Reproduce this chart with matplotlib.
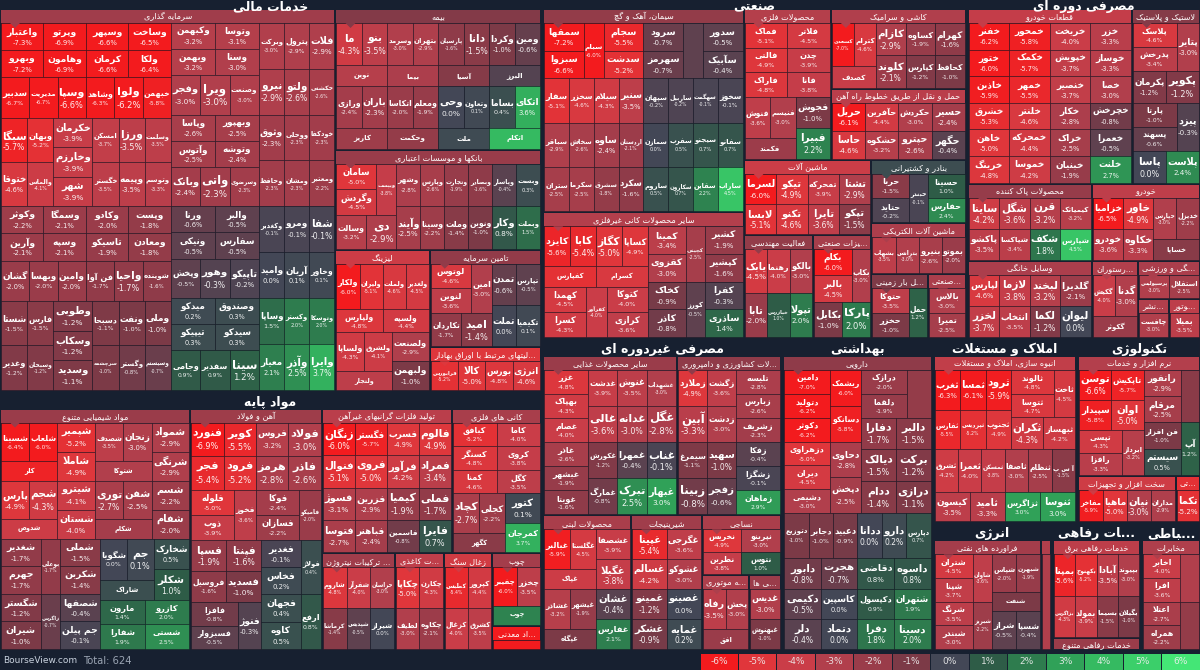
import matplotlib
matplotlib.use("Agg")
import matplotlib.pyplot as plt
from matplotlib.patches import Rectangle, Polygon
from matplotlib.colors import LinearSegmentedColormap
from matplotlib.font_manager import FontProperties
from matplotlib.textpath import TextPath
import numpy as np

# ------------------------------------------------------------------ data
SECTOR_NAMES = ["خدمات مالی", "مواد پایه", "صنعتی", "مصرفی دوره ای", "مصرفی غیردوره ای",
                "بهداشتی", "املاک و مستغلات", "تکنولوژی", "انرژی", "خدمات رفاهی", "خدمات ارتباطی"]

FIN = [
    ("سرمایه گذاری", [
        ("وبهرو", -7.2), ("واعتبار", -7.3), ("وپرتو", -6.9), ("وهامون", -6.9), ("سدبیر", -6.7),
        ("مدیریت", -6.7), ("وسپا", -6.6), ("وسپهر", -6.6), ("کرمان", -6.6), ("وساخت", -6.5),
        ("ولکا", -6.4), ("وشاهد", -6.3), ("ولوا", -6.2), ("خبهمن", -5.8), ("سبگا", -5.7),
        ("وبهان", -5.2), ("ختوقا", -4.6), ("والماس", -4.1), ("خکرمان", -3.9), ("وخارزم", -3.9),
        ("شهر", -3.9), ("امسکن", -3.7), ("ورزا", -3.5), ("وسلمت", -3.5), ("خگستر", -3.5),
        ("وپیمه", -3.5),
        ("وتوسم", -3.3), ("وکبهمن", -3.2), ("وبهمن", -3.2), ("وتوسا", -3.1), ("وسنا", -3.0),
        ("وفجر", -3.0), ("ویرا", -3.0), ("وصنعت", -3.0), ("وبرکت", -3.0), ("پترول", -2.9),
        ("فلات", -2.9), ("نیرو", -2.9), ("ولتو", -2.6), ("حکشتی", -2.6), ("وپاسا", -2.6),
        ("وآتوس", -2.5), ("وبهپور", -2.5), ("وتوشه", -2.4), ("وبانک", -2.4), ("واتی", -2.3),
        ("وسرضوی", -2.3), ("وثوق", -2.3), ("ووحلی", -2.3), ("خودکفا", -2.3), ("وحافظ", -2.3),
        ("ومشان", -2.3),
        ("ومعتبر", -2.2), ("وکوثر", -2.2), ("وآرین", -2.1), ("وسمگا", -2.1), ("وسپه", -2.1),
        ("گشان", -2.0), ("وبهسا", -2.0), ("وامین", -2.0), ("وکادو", -2.0), ("تاسیکو", -1.9),
        ("وپست", -1.8), ("ومعادن", -1.8), ("فن آوا", -1.7), ("واحیا", -1.7), ("شوینده", -1.6),
        ("شستا", -1.5), ("فارس", -1.5), ("وغدیر", -1.2), ("وسبحان", -1.2), ("وطوبی", -1.2),
        ("وسکاب", -1.2), ("وسدید", -1.1), ("دسبحا", -1.1), ("ونفت", -1.0), ("وملی", -1.0),
        ("سرچشمه", -1.0),
        ("وگستر", -0.8), ("وسیستم", -0.7), ("ورنا", -0.6), ("ونیکی", -0.5), ("والبر", -0.5),
        ("سفارس", -0.5), ("وپخش", -0.5), ("وهور", -0.3), ("تاپیکو", -0.2), ("وکغدیر", -0.1),
        ("ومرو", -0.1), ("شفا", -0.1), ("وامید", 0.0), ("آریان", 0.1), ("وخاور", 0.1),
        ("میدکو", 0.2), ("تیپیکو", 0.3), ("وصندوق", 0.3), ("سیدکو", 0.3), ("وجامی", 0.9),
        ("سفدیر", 0.9), ("سینا", 1.2), ("وساپا", 1.5), ("وکستر", 2.0), ("وتوسکا", 2.0),
        ("معیار", 2.1), ("وآذر", 2.5), ("وایرا", 3.7)]),
    ("بیمه", [
        ("ما", -4.3), ("بنو", -3.5), ("نوین", -3.2), ("وسرمد", -3.0), ("بتهران", -2.9),
        ("بیما", -2.8), ("ورازی", -2.4), ("باران", -2.3), ("کاریز", -2.2), ("اتکاسا", -2.0),
        ("ومعلم", -1.9), ("وحکمت", -1.8), ("پارسیان", -1.6), ("دانا", -1.5), ("آسیا", -1.3),
        ("وکردا", -1.0), ("ومین", -0.6), ("البرز", -0.3), ("وحی", 0.0), ("وتعاون", 0.1),
        ("ملت", 0.2), ("بساما", 0.4), ("اتکای", 3.6), ("اتکام", 4.0)]),
    ("بانکها و موسسات اعتباری", [
        ("سامان", -5.0), ("وگردش", -4.5), ("ویپست", -3.8), ("وسالت", -3.2), ("دی", -2.9),
        ("وشهر", -2.8), ("وپارس", -2.6), ("وآیند", -2.5), ("وسینا", -2.2), ("وتجارت", -1.9),
        ("وبصادر", -1.6), ("وملت", -1.4), ("ونوین", -1.0), ("وپاسار", -0.4), ("وبست", 0.3),
        ("وکار", 0.8), ("وبملت", 1.5)]),
    ("لیزینگ", [
        ("ولکار", -6.0), ("ولیران", -5.1), ("ولپارس", -4.8), ("ولملت", -4.6), ("ولغدیر", -4.5),
        ("ولسپه", -4.4), ("ولساپا", -4.3), ("ولشرق", -4.1), ("ولتجار", -3.5), ("ولصنعت", -2.9),
        ("ولبهمن", -1.0)]),
    ("تامین سرمایه", [
        ("لوتوس", -4.6), ("لنوین", -3.6), ("امین", -3.0), ("تکاردان", -1.7), ("امید", -1.4),
        ("تمدن", -0.6), ("تپارس", -0.5), ("تملت", 0.0), ("تکیمیا", 0.1)]),
    ("فعالیتهای مرتبط با اوراق بهادار", [
        ("فرابورس", -5.2), ("کالا", -5.0), ("بورس", -4.8), ("انرژی", -4.6)]),
]

BASIC = [
    ("مواد شیمیایی متنوع", [
        ("شسینا", -6.4), ("شلعاب", -6.0), ("کلر", -5.7), ("شپمیر", -5.2), ("شاملا", -4.9),
        ("پارس", -4.9), ("شجم", -4.3), ("شدوص", -4.1), ("شیترو", -4.1), ("شستان", -4.0),
        ("شصدف", -3.5), ("زنجان", -3.0), ("شتوکا", -3.0), ("شمواد", -2.9), ("شرنگی", -2.9),
        ("توری", -2.7), ("شفن", -2.5), ("شکام", -2.4), ("شسم", -2.2), ("شفام", -2.0),
        ("شغدیر", -1.7), ("جهرم", -1.7), ("بوعلی", -1.7), ("شملی", -1.5), ("شکربن", -1.4),
        ("شگستر", -1.2), ("شیران", -1.0), ("زاگرس", -0.7), ("شصفها", -0.4), ("جم پیلن", -0.1),
        ("شگویا", 0.0), ("جم", 0.1), ("شاراک", 0.4), ("شخارک", 0.5), ("شکلر", 1.0),
        ("مارون", 1.4), ("شفارا", 1.9), ("کازرو", 2.0), ("شستی", 2.5)]),
    ("آهن و فولاد", [
        ("فنورد", -6.9), ("کویر", -5.5), ("فجر", -5.4), ("فرود", -5.2), ("فلوله", -5.0),
        ("ذوب", -3.9), ("فخوز", -3.6), ("فروس", -3.2), ("فولاد", -3.0), ("هرمز", -2.8),
        ("فاذر", -2.6), ("فوکا", -2.4), ("فسازان", -2.2), ("فامیکو", -2.0), ("فسپا", -1.9),
        ("فروسیل", -1.6), ("فپنتا", -1.6), ("فسدید", -1.0), ("فافزا", -0.8), ("فسبزوار", -0.5),
        ("فنوژ", -0.3), ("فغدیر", -0.1), ("فخاس", 0.2), ("فولاژ", 0.4), ("فجهان", 0.4),
        ("کاوه", 0.5), ("ارفع", 0.8)]),
    ("تولید فلزات گرانبهای غیرآهن", [
        ("زنگان", -6.0), ("فگستر", -5.7), ("فنوال", -5.1), ("فروی", -5.0), ("فسرب", -4.9),
        ("فالوم", -4.9), ("فرآور", -4.2), ("فمراد", -3.4), ("فسوژ", -3.1), ("فزرین", -2.9),
        ("فتوسا", -2.7), ("فباهنر", -2.4), ("کیمیا", -1.9), ("فملی", -1.7), ("فاسمین", -0.8),
        ("فایرا", 0.7)]),
    ("کانی های فلزی", [
        ("کبافق", -5.2), ("کسنگر", -4.8), ("کمنا", -4.6), ("کاما", -4.0), ("کروی", -3.8),
        ("کگل", -3.5), ("کچاد", -2.7), ("کجلی", -2.2), ("کگهر", -1.5), ("کتور", 0.1),
        ("کمرجان", 3.7)]),
    ("کود و ترکیبات نیتروژن", [
        ("شاروم", -4.8), ("شفرآز", -4.0), ("خراسان", -3.0), ("کرماشا", -1.4), ("شپدیس", -0.5),
        ("شیراز", 0.0)]),
    ("محصولات کاغذی", [("چکاپا", -5.0), ("چکارن", -4.3), ("لطیف", -3.0), ("چکاوه", -2.1)]),
    ("زغال سنگ", [("کطبس", -5.4), ("کپرور", -4.4), ("کزغال", -4.0), ("کشرق", -3.5)]),
    ("چوب", [("چفیبر", -6.0), ("چخزر", -3.5), ("چوب", 2.2)]),
    ("استخراج سایر مواد معدنی", [("کمنگنز", -6.2)]),
]

IND = [
    ("سیمان، آهک و گچ", [
        ("سمقها", -7.2), ("سبزوا", -6.6), ("سبام", -6.0), ("سجام", -5.5), ("سدشت", -5.2),
        ("سفار", -5.1), ("سخزر", -4.6), ("سیلام", -4.3), ("سنیر", -3.5), ("سباقر", -2.9),
        ("سخاش", -2.6), ("ستران", -2.5), ("سکرما", -2.5), ("ساوه", -2.4), ("اردستان", -2.1),
        ("سشرق", -1.8), ("سکرد", -1.6),
        ("سرود", -0.7), ("سهرمز", -0.7), ("سصوفی", -0.5), ("سدور", -0.5), ("سآبیک", -0.4),
        ("سپهان", -0.2), ("ساربیل", -0.2), ("سهگمت", -0.1), ("سخوز", -0.1), ("سمازن", 0.0),
        ("سفرب", 0.5), ("ساروم", 0.5), ("سکارون", 0.7), ("سیجنو", 0.7), ("سفانو", 0.7),
        ("سقاین", 2.2), ("ساراب", 4.5)]),
    ("سایر محصولات کانی غیرفلزی", [
        ("کایزد", -5.6), ("کابا", -5.4), ("کفپارس", -5.2), ("کگاز", -5.0), ("کساپا", -4.9),
        ("کسرام", -4.6), ("کهمدا", -4.5), ("کسرا", -4.3), ("کفرآور", -4.0), ("کتوکا", -4.0),
        ("کرازی", -3.6), ("کمینا", -3.4), ("کقزوی", -3.0), ("کچینی", -2.5), ("کشیر", -1.9),
        ("کپشیر", -1.6), ("کخاک", -0.9), ("کاذر", -0.8), ("کورز", -0.5), ("کفرا", -0.3),
        ("ساذری", 1.4)]),
    ("محصولات فلزی", [
        ("فماک", -5.1), ("فالتی", -4.9), ("فاراک", -4.8), ("فلاتر", -4.5), ("چدن", -3.9),
        ("فانا", -3.8), ("فنوش", -3.6), ("فنیسم", -3.0), ("فکمند", -2.1), ("فجوش", -1.0),
        ("فبیرا", 2.2)]),
    ("کاشی و سرامیک", [
        ("کسعدی", -7.0), ("کترام", -4.6), ("کصدف", -3.9), ("کازام", -2.9), ("کلوند", -2.1),
        ("کساوه", -1.9), ("کهرام", -1.6), ("کپارس", -1.2), ("کحافظ", -1.0)]),
    ("حمل و نقل از طریق خطوط راه آهن", [
        ("حریل", -6.1), ("حاسا", -4.6), ("حآفرین", -4.4), ("حشکوه", -3.2), ("حکردش", -3.0),
        ("حپترو", -2.6), ("حسیر", -2.4), ("حگهر", -0.4)]),
    ("ماشین آلات", [
        ("لسرما", -6.0), ("لابسا", -5.1), ("تیکو", -4.9), ("تکنو", -4.6), ("تمحرکه", -3.9),
        ("تایرا", -3.6), ("تشتا", -2.9), ("تپکو", -1.5)]),
    ("فعالیت مهندسی", [
        ("یابک", -4.5), ("رهنما", -4.0), ("بالکو", -3.0), ("تابا", -2.0), ("خبازرس", 1.0),
        ("تپولا", 2.0)]),
    ("تجهیزات صنعتی", [("بکام", -6.0), ("بالبر", -4.5), ("بکاب", -3.0), ("بکابل", -1.0), ("پارکا", 2.0)]),
    ("بنادر و کشتیرانی", [("حریا", -1.5), ("حتاید", -0.2), ("حبندر", -0.1), ("حسینا", 1.0), ("حفارس", 2.4)]),
    ("ماشین آلات الکتریکی", [("بشهاب", -3.5), ("بترانس", -3.0), ("بنیرو", -2.6), ("بموتو", -2.0)]),
    ("حمل و نقل بار زمینی", [("حتوکا", -3.5), ("حخزر", -1.0), ("حمل", 1.2)]),
    ("تعمیر و نگهداری صنعتی", [("بالاس", -3.0), ("تمیرا", -2.5)]),
]

CYC = [
    ("قطعات خودرو", [
        ("خفنر", -6.2), ("ختور", -6.0), ("خاذین", -5.9), ("خمحور", -5.8), ("خکمک", -5.7),
        ("خمهر", -5.5), ("خشرق", -5.3), ("خاهن", -5.0), ("خرینگ", -4.8), ("خلنتر", -4.6),
        ("خمحرکه", -4.4), ("خموسا", -4.2), ("خریخت", -4.0), ("خپویش", -3.7), ("خنصیر", -3.7),
        ("خزر", -3.3), ("خوساز", -3.3), ("خصا", -3.0), ("خکار", -2.8), ("خراک", -2.5),
        ("خبنیان", -1.9), ("خچرخش", -0.8), ("خعمرا", -0.5), ("خلنت", 2.7)]),
    ("لاستیک و پلاستیک", [
        ("پلاسک", -4.6), ("پدرخش", -3.4), ("پتایر", -3.0), ("پکرمان", -1.2), ("پکویر", -1.2),
        ("پارتا", -1.0), ("پسهند", -0.6), ("پیزد", -0.3), ("پاسا", 0.0), ("پلاست", 2.4)]),
    ("محصولات پاک کننده", [
        ("ساینا", -4.2), ("شگل", -3.6), ("پاکشو", -3.5), ("شپاکسا", -3.4), ("قرن", -3.2),
        ("کیمیاتک", -3.2), ("شکف", 1.8), ("شپارس", 4.5)]),
    ("وسایل خانگی", [
        ("لپارس", -4.6), ("لازما", -3.8), ("لخزر", -3.7), ("انتخاب", -3.5), ("لبخند", -3.2),
        ("گلدیرا", -2.1), ("لکما", -1.2), ("لیوان", 0.0)]),
    ("خودرو", [
        ("خزامیا", -6.5), ("خاور", -4.9), ("خودرو", -3.6), ("خکاوه", -3.3), ("خپارس", -3.0),
        ("خدیزل", -2.2), ("خساپا", -1.4)]),
    ("هتل و رستوران", [("گکیش", -4.0), ("گدنا", -3.0), ("گکوثر", -2.0)]),
    ("فعالیت های فرهنگی و ورزشی", [("پرسپولیس", -3.0), ("استقلال", -2.5)]),
    ("چاپ و نشر", [("چافست", -3.0)]),
    ("قطعات موتور", [("بمیلا", -3.5)]),
]

NONCYC = [
    ("سایر محصولات غذایی", [
        ("غزر", -4.8), ("بهپاک", -4.3), ("غصام", -4.0), ("غدشت", -3.9), ("غالی", -3.6),
        ("غنوش", -3.5), ("غشهداب", -3.0), ("غدانه", -3.0), ("غگل", -2.8), ("غاذر", -2.6),
        ("غبشهر", -1.9), ("غویتا", -1.6), ("غکورش", -1.2), ("غمارگ", -0.8), ("غمهرا", -0.4),
        ("غناب", -0.1), ("تبرک", 2.5), ("غبهار", 3.0)]),
    ("محصولات کشاورزی و دامپروری", [
        ("زملارد", -4.9), ("زگشت", -3.6), ("آبین", -3.3), ("زدشت", -3.0), ("تلیسه", -2.8),
        ("زبارس", -2.6), ("زشریف", -2.3), ("سیمرغ", -1.1), ("سهید", -1.0), ("زبینا", -0.8),
        ("زفجر", -0.6), ("زفکا", -0.4), ("زشگزا", -0.1), ("زماهان", 2.9)]),
    ("محصولات لبنی", [
        ("غبالبر", -5.9), ("غگلستا", -4.5), ("غپاک", -4.1), ("غشصفا", -3.9), ("غگیلا", -3.8),
        ("غشاذر", -3.2), ("غیشهر", -1.9), ("غپگاه", -1.0), ("غشان", -0.4), ("غفارس", 2.1)]),
    ("شیرینیجات", [
        ("غپینا", -5.4), ("غسالم", -4.2), ("غگرجی", -3.6), ("غشوکو", -3.0), ("غمینو", -1.2),
        ("غشکر", -0.9), ("غصینو", 0.0), ("غمایه", 0.2)]),
    ("نساجی", [("نخریس", -4.9), ("نطرین", -3.8), ("نپرینو", -3.0), ("نتوس", 1.0)]),
    ("خرده فروشی، باستثنای وسایل نقلیه موتوری", [("رفاه", -3.5), ("پخش", -3.0), ("افق", -2.0)]),
    ("آشامیدنی ها", [("غدیس", -3.0), ("غبهنوش", -1.0)]),
]

HEALTH = [
    ("دارویی", [
        ("دامین", -7.0), ("دتولید", -6.2), ("دکوثر", -6.2), ("ریشمک", -6.0), ("دسانکو", -5.8),
        ("دزهراوی", -5.0), ("دیران", -4.5), ("دشیمی", -3.0), ("دحاوی", -2.8), ("دپخش", -2.5),
        ("درازک", -2.0), ("دلقما", -1.9), ("تی بی سی", -1.8), ("دفارا", -1.7), ("دالبر", -1.5),
        ("دیالک", -1.5), ("ددام", -1.4), ("برکت", -1.2), ("درازی", -1.1), ("دتوزیع", -1.0),
        ("دجابر", -1.0), ("دعبید", -0.9), ("دابور", -0.8), ("هجرت", -0.7), ("دکیمی", -0.5),
        ("دلر", -0.4), ("کاسپین", 0.0), ("دتماد", 0.0), ("ددانا", 0.0), ("دارو", 0.2),
        ("دپارس", 0.7), ("دقاضی", 0.8), ("داسوه", 0.8), ("دکپسول", 0.9), ("دفرا", 1.8),
        ("شتهران", 1.9), ("دسینا", 2.0)]),
]

REAL = [
    ("انبوه سازی، املاک و مستغلات", [
        ("ثغرب", -6.3), ("ثمسا", -6.1), ("ثرود", -5.9), ("ثفارس", -5.5), ("ثپردیس", -5.2),
        ("ثجنوب", -4.9), ("ثالوند", -4.8), ("ثتوسا", -4.7), ("ثاخت", -4.5), ("ثکران", -4.3),
        ("ثبهساز", -4.2), ("ثشرق", -4.2), ("ثعمرا", -4.0), ("ثمسکن", -3.8), ("کیسون", -3.5),
        ("ثامید", -3.3), ("ثاصفا", -3.0), ("ثنظام", -2.5), ("آ س پ", -1.5), ("ثزاگرس", 3.0),
        ("ثنوسا", 3.0)]),
]

TECH = [
    ("نرم افزار و خدمات", [
        ("توسن", -6.6), ("سپیدار", -5.8), ("تاپکیش", -5.7), ("اوان", -5.0), ("تپسی", -4.3),
        ("رافزا", -3.3), ("ابرداز", -3.2), ("رانفور", -2.9), ("مرقام", -2.5), ("پرداخت", -1.5),
        ("فن افزار", -1.0), ("سیستم", 0.5), ("آپ", 1.2)]),
    ("سخت افزار و تجهیزات", [("مفاخر", -5.9), ("ماهیا", -5.0), ("نیان", -3.0), ("مداران", -2.9)]),
    ("تجهیزات مخابراتی", [("تکما", -5.2)]),
]

ENERGY = [
    ("فراورده های نفتی", [
        ("شتران", -4.5), ("شپنا", -3.7), ("شاوان", -3.6), ("شرنگ", -3.5), ("شبندر", -3.0),
        ("شبریز", -2.2), ("شپاس", -2.0), ("شبهرن", -1.9), ("شنفت", -1.0), ("شراز", -0.5),
        ("شسپا", -0.4)]),
    ("استخراج نفت و گاز", [("پارسان", -3.0)]),
]

UTIL = [
    ("خدمات رفاهی برق", [
        ("بمپنا", -5.6), ("بکهنوج", -5.2), ("بزاگرس", -4.3), ("بمولد", -3.9), ("آبادا", -3.5),
        ("بپیوند", -3.0), ("بسیما", -1.5), ("بگیلان", -1.0)]),
    ("خدمات رفاهی متنوع", [("ساحل", -2.0)]),
]

TELECOM = [
    ("مخابرات", [("اخابر", -4.0), ("افرا", -3.6), ("آسیاتک", -3.0), ("اعتلا", -2.7),
                ("همراه", -2.2), ("های وب", -1.8)]),
]

SECTOR_DATA = [FIN, BASIC, IND, CYC, NONCYC, HEALTH, REAL, TECH, ENERGY, UTIL, TELECOM]
LEGEND_TICKS = [-6, -5, -4, -3, -2, -1, 0, 1, 2, 3, 4, 5, 6]
SITE_NAME = "BourseView.com"

# ------------------------------------------------------------------ style
BG = "#172030"
STOPS = ["#f31b1e", "#e0363b", "#c93d48", "#b13f4c", "#9a3c4a", "#7c3a47", "#434756",
         "#2e5c47", "#2e7c4e", "#30a058", "#35b961", "#3bcf6a", "#44e676"]
CMAP = LinearSegmentedColormap.from_list("bv", list(zip(np.linspace(0, 1, len(STOPS)), STOPS)))
PX2PT = 0.72


def pct_color(p):
    return CMAP((np.clip(p, -6, 6) + 6) / 12.0)


# ------------------------------------------------------------------ arabic shaping
_R = {'آ': 0xFE81, 'أ': 0xFE83, 'ؤ': 0xFE85, 'إ': 0xFE87, 'ا': 0xFE8D, 'ة': 0xFE93,
      'د': 0xFEA9, 'ذ': 0xFEAB, 'ر': 0xFEAD, 'ز': 0xFEAF, 'و': 0xFEED, 'ى': 0xFEEF, 'ژ': 0xFB8A}
_D = {'ئ': 0xFE89, 'ب': 0xFE8F, 'ت': 0xFE95, 'ث': 0xFE99, 'ج': 0xFE9D, 'ح': 0xFEA1,
      'خ': 0xFEA5, 'س': 0xFEB1, 'ش': 0xFEB5, 'ص': 0xFEB9, 'ض': 0xFEBD, 'ط': 0xFEC1,
      'ظ': 0xFEC5, 'ع': 0xFEC9, 'غ': 0xFECD, 'ف': 0xFED1, 'ق': 0xFED5, 'ك': 0xFED9,
      'ل': 0xFEDD, 'م': 0xFEE1, 'ن': 0xFEE5, 'ه': 0xFEE9, 'ي': 0xFEF1, 'پ': 0xFB56,
      'چ': 0xFB7A, 'ک': 0xFB8E, 'گ': 0xFB92, 'ی': 0xFBFC}
_FORMS = {c: (chr(b), chr(b + 1), None, None) for c, b in _R.items()}
_FORMS.update({c: (chr(b), chr(b + 1), chr(b + 2), chr(b + 3)) for c, b in _D.items()})
_FORMS['ء'] = ('\ufe80', None, None, None)
_LAMALEF = {'آ': 0xFEF5, 'أ': 0xFEF7, 'إ': 0xFEF9, 'ا': 0xFEFB}


def shape(s):
    out = []
    n = len(s)
    i = 0

    def links_next(c):
        f = _FORMS.get(c)
        return f is not None and f[2] is not None

    def links_prev(c):
        f = _FORMS.get(c)
        return f is not None and f[1] is not None

    while i < n:
        c = s[i]
        f = _FORMS.get(c)
        if f is None:
            out.append(c)
            i += 1
            continue
        prev = i > 0 and links_next(s[i - 1]) and f[1] is not None
        if c == 'ل' and i + 1 < n and s[i + 1] in _LAMALEF:
            b = _LAMALEF[s[i + 1]]
            out.append(chr(b + 1) if prev else chr(b))
            i += 2
            continue
        nxt = f[2] is not None and i + 1 < n and links_prev(s[i + 1])
        if prev and nxt:
            g = f[3]
        elif prev:
            g = f[1]
        elif nxt:
            g = f[2]
        else:
            g = f[0]
        out.append(g)
        i += 1
    return "".join(reversed(out))


FP = {"bold": FontProperties(family="DejaVu Sans", weight="bold"),
      "normal": FontProperties(family="DejaVu Sans", weight="normal")}
_WC = {}


def text_w(s, weight):
    if not s:
        return 0.0
    key = (s, weight)
    if key not in _WC:
        tp = TextPath((0, 0), s, size=10, prop=FP[weight])
        _WC[key] = tp.get_extents().width / 10.0
    return _WC[key]


def fit_text(logical, fs, weight, maxw, rtl=True):
    vis = shape(logical) if rtl else logical
    if text_w(vis, weight) * fs <= maxw:
        return vis
    m = len(vis)
    while m > 0 and text_w(vis[:m] + "...", weight) * fs > maxw:
        m -= 1
    return (vis[:m] + "...") if m > 0 else ""


# ------------------------------------------------------------------ layout (binary treemap)
def binary(values, x0, y0, x1, y1):
    n = len(values)
    sums = np.concatenate([[0.0], np.cumsum(values)])
    rects = [None] * n

    def part(i, j, value, x0, y0, x1, y1):
        if i >= j - 1:
            rects[i] = (x0, y0, x1, y1)
            return
        off = sums[i]
        target = value / 2.0 + off
        k, hi = i + 1, j - 1
        while k < hi:
            mid = (k + hi) // 2
            if sums[mid] < target:
                k = mid + 1
            else:
                hi = mid
        if (target - sums[k - 1]) < (sums[k] - target) and i + 1 < k:
            k -= 1
        vl = sums[k] - off
        vr = value - vl
        if (x1 - x0) > (y1 - y0):
            xk = (x0 * vr + x1 * vl) / value
            part(i, k, vl, x0, y0, xk, y1)
            part(k, j, vr, xk, y0, x1, y1)
        else:
            yk = (y0 * vr + y1 * vl) / value
            part(i, k, vl, x0, y0, x1, yk)
            part(k, j, vr, x0, yk, x1, y1)

    part(0, n, sums[-1], x0, y0, x1, y1)
    return rects


def shrink(r, p):
    return (r[0] + p, r[1] + p, r[2] - p, r[3] - p)


# ------------------------------------------------------------------ figure
fig = plt.figure(figsize=(12, 6.7), dpi=100, facecolor=BG)
ax = fig.add_axes([0, 0, 1, 1])
ax.set_xlim(0, 1200)
ax.set_ylim(670, 0)
ax.axis("off")
ax.set_facecolor(BG)


def put(x, y, s, fs_px, weight="bold", color="white", ha="center", alpha=1.0, z=5):
    ax.text(x, y, s, fontsize=fs_px * PX2PT, fontfamily="DejaVu Sans", fontweight=weight,
            color=color, ha=ha, va="center", alpha=alpha, zorder=z)


ROOT = (-1, -8, 1201, 651)
sector_counts = [sum(len(t) for _, t in sec) for sec in SECTOR_DATA]
sector_rects = binary(sector_counts, *ROOT)

SEC_HDR = 16
SUB_HDR = 13
for sname, sdata, srect in zip(SECTOR_NAMES, SECTOR_DATA, sector_rects):
    sr = shrink(srect, 2)
    sw = sr[2] - sr[0]
    # sector title (kept inside the picture for the top row)
    fs = 12.5
    lab = fit_text(sname, fs, "bold", sw - 6)
    ty = max(sr[1] + SEC_HDR / 2 + 0.5, 6.5)
    put((sr[0] + sr[2]) / 2, ty, lab, fs, "bold", z=6)
    content = (sr[0] - 1, sr[1] + SEC_HDR - 1, sr[2] + 1, sr[3] + 1)
    sub_counts = [len(t) for _, t in sdata]
    sub_rects = binary(sub_counts, *content)
    for (subname, tickers), subrect in zip(sdata, sub_rects):
        r = shrink(subrect, 1)
        w, h = r[2] - r[0], r[3] - r[1]
        if w <= 0 or h <= 0:
            continue
        pcts = np.array([p for _, p in tickers])
        hcol = pct_color(pcts.mean())
        hh = min(SUB_HDR, h)
        ax.add_patch(Rectangle((r[0], r[1]), w, hh, facecolor=hcol, edgecolor="none", zorder=2))
        hfs = 8.2
        hl = fit_text(subname, hfs, "normal", w - 6)
        if hl and hh >= 9:
            put((r[0] + r[2]) / 2, r[1] + hh / 2 + 0.3, hl, hfs, "normal")
        if h <= SUB_HDR + 1:
            continue
        order = sorted(range(len(tickers)), key=lambda q: tickers[q][1])
        leaf_rects = binary([1.0] * len(order), r[0], r[1] + SUB_HDR, r[2], r[3])
        for q, lr in zip(order, leaf_rects):
            name, p = tickers[q]
            lw_, lh_ = lr[2] - lr[0], lr[3] - lr[1]
            ax.add_patch(Rectangle((lr[0], lr[1]), lw_, lh_, facecolor=pct_color(p),
                                   edgecolor=(0.05, 0.06, 0.11, 0.45), linewidth=0.6, zorder=1))
            if lh_ < 8 or lw_ < 12:
                continue
            vis = shape(name)
            nfs = min(0.34 * lh_, 0.30 * lw_ + 3.0, 12.5)
            wn = text_w(vis, "bold")
            if wn * nfs > 0.88 * lw_:
                nfs = 0.88 * lw_ / wn
            if nfs < 4.8:
                continue
            pfs = max(4.6, 0.74 * nfs)
            cx, cy = (lr[0] + lr[2]) / 2, (lr[1] + lr[3]) / 2
            if lh_ >= 22 and lh_ >= nfs * 1.3 + pfs + 5:
                block = nfs * 1.25 + pfs
                put(cx, cy - block / 2 + nfs / 2, vis, nfs, "bold")
                put(cx, cy + block / 2 - pfs / 2 + 0.5, f"{p:.1f}%", pfs, "normal", alpha=0.92)
            else:
                put(cx, cy + 0.3, vis, nfs, "bold")
        # notch under header
        if w > 32 and h > SUB_HDR + 14:
            y = r[1] + SUB_HDR
            ax.add_patch(Polygon([(r[0] + 9, y), (r[0] + 19, y), (r[0] + 14, y + 5)],
                                 closed=True, facecolor=hcol, edgecolor="none", zorder=3))

# ------------------------------------------------------------------ footer
total = sum(sector_counts)
put(3, 660.5, SITE_NAME, 9.0, "normal", color="#c9d2de", ha="left")
put(83, 660.5, f"Total: {total}", 10.0, "normal", color="#9aa4b2", ha="left")
lx0, lx1 = 700.0, 1200.0
bw = (lx1 - lx0) / len(LEGEND_TICKS)
for i, t in enumerate(LEGEND_TICKS):
    ax.add_patch(Rectangle((lx0 + i * bw + 0.5, 653.5), bw - 1, 16, facecolor=pct_color(t),
                           edgecolor="none", zorder=2))
    put(lx0 + (i + 0.5) * bw, 661.5, f"{t}%", 9.0, "normal", color="#f0f0f0", alpha=0.9)

fig.savefig("out.png", dpi=100, facecolor=BG)
